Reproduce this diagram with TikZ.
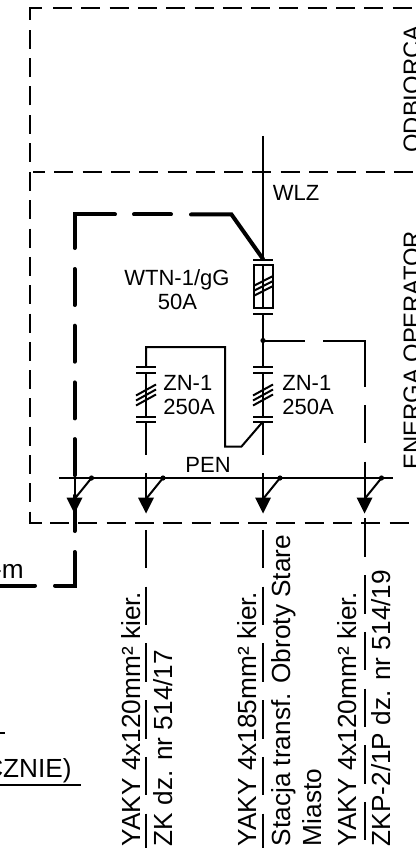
\documentclass[tikz,border=0pt]{standalone}
\usepackage{fontspec}
\setmainfont{Liberation Sans}
\usetikzlibrary{positioning}
\tikzset{
  wire/.style={line width=1pt},
  bus/.style={line width=1.2pt},
  frameline/.style={line width=0.95pt,dash pattern=on 9.5pt off 4.65pt},
  framecorner/.style={line width=0.95pt},
  branchline/.style={line width=1pt,dash pattern=on 19.2pt off 9.15pt},
  thickline/.style={line width=2pt,line cap=round},
  thickdash/.style={thickline,dash pattern=on 18pt off 10.35pt},
  plate/.style={inner sep=0pt,anchor=base west,font=\fontsize{11}{13}\selectfont},
  cablelabel/.style={rotate=90,inner sep=0pt,anchor=base west,font=\fontsize{13.1}{15}\selectfont},
  sidelabel/.style={rotate=90,inner sep=0pt,anchor=base west,font=\fontsize{11.9}{14}\selectfont},
  cutlabel/.style={inner sep=0pt,anchor=base east,font=\fontsize{13.1}{15}\selectfont},
  zncontact/.pic={
    \draw[wire] (-10,-28) -- (10,-28);
    \draw[wire] (-10,-22.4) -- (10,-22.4);
    \draw[wire] (0,-22.4) -- (0,21.5);
    \draw[wire] (-10,0.5) -- (10,-10.5);
    \draw[wire] (-10,5.5) -- (10,-5.5);
    \draw[wire] (-10,10.5) -- (10,-0.5);
    \draw[wire] (-10,21.5) -- (10,21.5);
    \draw[wire] (-10,26.5) -- (10,26.5);
  },
  outfeed/.pic={
    \draw[wire] (0,-5) -- (0,25);
    \draw[wire] (0,21) -- (17,0);
    \fill (17,0) circle (2.6);
    \fill (-8,19.5) -- (8,19.5) -- (0,35.5) -- cycle;
  },
}

\begin{document}
\begin{tikzpicture}[x=0.5pt,y=-0.5pt]
  \useasboundingbox (0,0) rectangle (416,850);
  % frames
  \coordinate (topA) at (30,20);
  \coordinate (topB) at (30,8);
  \coordinate (topC) at (42,8);
  \coordinate (topD) at (53,8);
  \coordinate (topE) at (416,8);
  \coordinate (leftA) at (30,28);
  \coordinate (leftB) at (30,162);
  \coordinate (midA) at (33,172);
  \coordinate (midB) at (416,172);
  \coordinate (lowA) at (30,172);
  \coordinate (lowB) at (30,511.5);
  \coordinate (lowC) at (30,523);
  \coordinate (lowD) at (42,523);
  \coordinate (lowE) at (50,523);
  \coordinate (lowF) at (416,523);
  \draw[framecorner] (topA) -- (topB) -- (topC);
  \draw[frameline] (topD) -- (topE);
  \draw[frameline] (leftB) -- (leftA);
  \draw[frameline,dash phase=3.5pt] (midA) -- (midB);
  \draw[frameline] (lowA) -- (lowB);
  \draw[framecorner] (lowB) -- (lowC) -- (lowD);
  \draw[frameline] (lowE) -- (lowF);

  % supply and fuse
  \coordinate (wlz) at (263,136);
  \coordinate[below=61.75pt of wlz] (fuseTop);
  \coordinate[below=27pt of fuseTop] (fuseBot);
  \coordinate[below=13.5pt of fuseBot] (tap);
  \coordinate[below=13.25pt of tap] (znB);
  \coordinate (fuseNW) at (253.5,265);
  \coordinate (fuseSE) at (273,308);
  \coordinate (fuseN) at (263,265);
  \coordinate (fuseS) at (263,308);
  \draw[wire] (wlz) -- (fuseTop);
  \draw[wire] (253,259.5) -- (273,259.5);
  \draw[wire] (fuseNW) rectangle (fuseSE);
  \draw[wire] (fuseN) -- (fuseS);
  \draw[wire] (253.5,286) -- (273,276);
  \draw[wire] (253.5,291) -- (273,281);
  \draw[wire] (253.5,296) -- (273,286);
  \draw[wire] (253,313.5) -- (273,313.5);
  \draw[wire] (fuseBot) -- (znB);
  \fill (tap) circle (2.6);

  % contacts
  \coordinate (zn1) at (146,395);
  \coordinate (zn2) at (263,395);
  \pic at (zn1) {zncontact};
  \pic at (zn2) {zncontact};
  \coordinate (znA) at (146,367);
  \coordinate (loopA) at (146,347);
  \coordinate (loopB) at (225,347);
  \coordinate (loopC) at (225,446.5);
  \coordinate (loopD) at (241.5,446.5);
  \coordinate (loopE) at (263,421.5);
  \coordinate (znA2) at (146,421.5);
  \coordinate (znA3) at (146,455);
  \coordinate (znB2) at (263,455);
  \draw[wire] (znA) -- (loopA) -- (loopB) -- (loopC) -- (loopD) -- (loopE);
  \draw[wire] (znA2) -- (znA3);
  \draw[wire] (loopE) -- (znB2);

  % bus
  \coordinate (penL) at (59,478);
  \coordinate (penR) at (393,478);
  \coordinate[right=43.5pt of penL] (pen1);
  \coordinate[right=58.5pt of pen1] (pen2);
  \coordinate[right=50.75pt of pen2] (pen3);
  \coordinate[left=35.75pt of pen1] (pen0);
  \draw[bus] (penL) -- (penR);
  \pic at (pen0) {outfeed};
  \pic at (pen1) {outfeed};
  \pic at (pen2) {outfeed};
  \pic at (pen3) {outfeed};

  % outgoing cables
  \coordinate[below=26pt of pen1] (tail1);
  \coordinate[below=26pt of pen2] (tail2);
  \coordinate (end1) at (146,848);
  \coordinate (end2) at (263,848);
  \draw[branchline] (tail1) -- (end1);
  \draw[branchline] (tail2) -- (end2);

  % dashed tap to third cable
  \coordinate (branchA) at (305,340.5);
  \coordinate (branchB) at (323,340.5);
  \coordinate (branchC) at (364.5,340.5);
  \coordinate (branchD) at (364.5,387);
  \coordinate (branchE) at (364.5,405);
  \coordinate (branchF) at (364.5,848);
  \draw[wire] (tap) -- (branchA);
  \draw[wire] (branchB) -- (branchC) -- (branchD);
  \draw[branchline] (branchE) -- (branchF);

  % thick route
  \coordinate (thA) at (263,259);
  \coordinate (thB) at (231.5,214.5);
  \coordinate (thC) at (191,214.5);
  \coordinate (thD) at (171,214.5);
  \coordinate (thE) at (134,214.5);
  \coordinate (thF) at (115,214.5);
  \coordinate (thG) at (74.5,214.5);
  \coordinate (thH) at (74.5,248);
  \coordinate (thI) at (74.5,269);
  \coordinate (thJ) at (74.5,531);
  \coordinate (thK) at (74.5,552);
  \coordinate (thL) at (74.5,585.5);
  \coordinate (thM) at (55,585.5);
  \coordinate (thN) at (35,585.5);
  \coordinate (thO) at (0,585.5);
  \draw[thickline] (thA) -- (thB) -- (thC);
  \draw[thickline] (thD) -- (thE);
  \draw[thickline] (thF) -- (thG) -- (thH);
  \draw[thickdash] (thI) -- (thJ);
  \draw[thickline] (thK) -- (thL) -- (thM);
  \draw[thickline] (thN) -- (thO);

  % labels
  \node[plate] (wlzText) at (272.5,201) {WLZ};
  \node[plate] (wtnText) at (124,285) {WTN-1/gG};
  \node[plate] (wtnAmp) at (157.5,309) {50A};
  \node[plate] (zn1Text) at (163,390) {ZN-1};
  \node[plate] (zn1Amp) at (163,414) {250A};
  \node[plate] (zn2Text) at (282,390) {ZN-1};
  \node[plate] (zn2Amp) at (282,414) {250A};
  \node[plate] (penText) at (185,472) {PEN};
  \node[sidelabel] (odbText) at (420,153) {ODBIORCA};
  \node[sidelabel] (eneText) at (420,470) {ENERGA OPERATOR};
  \node[cablelabel] (cab1a) at (140,846.5) {YAKY 4x120mm² kier.};
  \node[cablelabel] (cab1b) at (172,846.5) {ZK dz. nr 514/17};
  \node[cablelabel] (cab2a) at (256.5,846.5) {YAKY 4x185mm² kier.};
  \node[cablelabel] (cab2b) at (290,846.5) {Stacja transf. Obroty Stare};
  \node[cablelabel] (cab2c) at (321.5,846.5) {Miasto};
  \node[cablelabel] (cab3a) at (356.7,846.5) {YAKY 4x120mm² kier.};
  \node[cablelabel] (cab3b) at (390,846.5) {ZKP-2/1P dz. nr 514/19};

  % left edge
  \node[cutlabel] (mText) at (24,578) {-m};
  \node[cutlabel] (cznText) at (72,777) {CZNIE)};
  \coordinate (tickA) at (0,733);
  \coordinate (tickB) at (4.5,733);
  \coordinate (undA) at (0,785);
  \coordinate (undB) at (80.5,785);
  \draw[wire] (tickA) -- (tickB);
  \draw[bus] (undA) -- (undB);
\end{tikzpicture}
\end{document}
